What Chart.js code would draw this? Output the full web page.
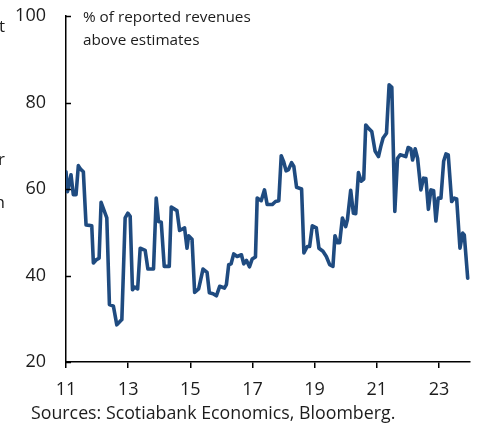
<!DOCTYPE html>
<html>
<head>
<meta charset="utf-8">
<script src="https://cdn.jsdelivr.net/npm/chart.js@4"></script>
<style>
  html, body { margin: 0; padding: 0; background: #fff; }
  canvas { display: block; }
</style>
</head>
<body>
<canvas id="revChart" width="477" height="430"></canvas>
<script>
// share of reported revenues above estimates, by date (two-digit year)
const years = [
    11.000, 11.048, 11.161, 11.235, 11.323, 11.397, 11.468, 11.558, 11.645, 11.829,
    11.881, 11.968, 12.065, 12.129, 12.313, 12.397, 12.526, 12.635, 12.797, 12.903,
    12.990, 13.065, 13.139, 13.210, 13.306, 13.387, 13.548, 13.635, 13.816, 13.903,
    13.977, 14.065, 14.161, 14.323, 14.387, 14.571, 14.655, 14.816, 14.894, 14.945,
    15.055, 15.139, 15.268, 15.410, 15.539, 15.613, 15.732, 15.839, 15.945, 16.097,
    16.161, 16.235, 16.313, 16.397, 16.506, 16.645, 16.719, 16.806, 16.903, 16.990,
    17.097, 17.152, 17.281, 17.387, 17.474, 17.635, 17.742, 17.848, 17.926, 18.000,
    18.081, 18.161, 18.258, 18.332, 18.419, 18.581, 18.655, 18.765, 18.839, 18.926,
    19.055, 19.139, 19.268, 19.377, 19.484, 19.590, 19.655, 19.732, 19.806, 19.894,
    20.000, 20.055, 20.161, 20.248, 20.323, 20.410, 20.500, 20.581, 20.645, 20.752,
    20.839, 20.945, 21.055, 21.129, 21.203, 21.313, 21.397, 21.484, 21.581, 21.668,
    21.752, 21.861, 21.935, 22.010, 22.097, 22.152, 22.235, 22.313, 22.419, 22.506,
    22.581, 22.661, 22.742, 22.829, 22.903, 22.977, 23.065, 23.152, 23.226, 23.300,
    23.410, 23.494, 23.571, 23.677, 23.765, 23.816, 23.926
];
const values = [
    64.0, 59.4, 63.3, 58.7, 58.7, 65.4, 64.6, 64.0, 51.7, 51.5,
    42.9, 43.6, 44.0, 56.9, 53.3, 33.3, 32.9, 28.6, 29.8, 53.3,
    54.4, 53.7, 36.7, 37.3, 36.9, 46.3, 45.8, 41.5, 41.5, 57.9,
    52.5, 52.3, 42.1, 42.1, 55.8, 55.0, 50.4, 51.0, 46.3, 49.2,
    48.4, 36.1, 36.9, 41.5, 40.7, 36.0, 35.8, 35.3, 37.5, 37.1,
    37.9, 42.5, 42.7, 45.0, 44.4, 44.8, 42.7, 43.5, 42.0, 43.8,
    44.3, 57.9, 57.3, 59.8, 56.4, 56.4, 57.1, 57.3, 67.7, 66.4,
    64.2, 64.5, 66.1, 65.2, 60.4, 60.0, 45.2, 46.7, 46.7, 51.5,
    51.0, 46.3, 45.6, 44.4, 42.5, 42.1, 49.2, 47.6, 47.6, 53.3,
    51.3, 52.9, 59.7, 54.4, 54.3, 63.8, 61.8, 62.3, 74.8, 73.9,
    73.3, 68.8, 67.5, 69.8, 71.8, 72.9, 84.1, 83.5, 54.8, 67.1,
    67.9, 67.7, 67.5, 69.6, 69.3, 66.7, 69.3, 67.1, 59.8, 62.5,
    62.4, 55.3, 59.8, 59.6, 52.6, 57.9, 57.9, 66.4, 68.1, 67.9,
    57.1, 57.9, 57.7, 46.3, 49.8, 49.4, 39.4
];
const xTicks = [11, 13, 15, 17, 19, 21, 23];
const yTicks = [20, 40, 60, 80, 100];
const titleLines = ["% of reported revenues", "above estimates"];
const sourceText = "Sources: Scotiabank Economics, Bloomberg.";

const FONT = "'Open Sans', 'Noto Sans', sans-serif";
const INK = "#1c1c1c";

// y-axis ticks point into the plot, plus the text around the chart
const decorations = {
    id: "decorations",
    afterDraw(chart) {
        const ctx = chart.ctx;
        const y = chart.scales.y;
        const left = chart.chartArea.left;
        ctx.save();
        ctx.strokeStyle = "#000";
        ctx.lineWidth = 1.5;
        yTicks.forEach(v => {
            const py = Math.round(y.getPixelForValue(v)) + 0.5;
            ctx.beginPath();
            ctx.moveTo(left, py);
            ctx.lineTo(left + 5, py);
            ctx.stroke();
        });

        ctx.fillStyle = INK;
        ctx.textAlign = "left";
        ctx.textBaseline = "alphabetic";
        ctx.font = "15.3px " + FONT;
        ctx.fillText(titleLines[0], 83, 22);
        ctx.fillText(titleLines[1], 83, 45);
        ctx.font = "17.8px " + FONT;
        ctx.fillText(sourceText, 31, 419);

        // edges of the neighbouring panel's text
        ctx.font = "17px " + FONT;
        ctx.textAlign = "right";
        ctx.fillText("t", 5, 32);
        ctx.fillText("r", 5, 165);
        ctx.fillText("h", 5, 208);
        ctx.restore();
    }
};

new Chart(document.getElementById("revChart"), {
    type: "line",
    data: {
        datasets: [{
            data: years.map((x, i) => ({ x: x, y: values[i] })),
            borderColor: "#1f4b80",
            borderWidth: 3.6,
            borderJoinStyle: "round",
            borderCapStyle: "round",
            pointRadius: 0,
            tension: 0,
            fill: false
        }]
    },
    options: {
        responsive: false,
        animation: false,
        layout: { padding: { top: 16, right: 7, left: 0, bottom: 0 } },
        plugins: {
            legend: { display: false },
            tooltip: { enabled: false }
        },
        scales: {
            x: {
                type: "linear",
                min: 11,
                max: 24,
                afterBuildTicks: s => { s.ticks = xTicks.map(v => ({ value: v })); },
                afterFit: s => {
                    s.height = 68;
                    s.paddingLeft = 0;
                    s.paddingRight = 0;
                },
                grid: {
                    drawOnChartArea: false,
                    drawTicks: true,
                    tickLength: 6,
                    color: "#000",
                    lineWidth: 1.5
                },
                border: { display: true, color: "#000", width: 1.5 },
                ticks: {
                    autoSkip: false,
                    maxRotation: 0,
                    padding: 11,
                    color: INK,
                    font: { family: FONT, size: 18 },
                    callback: v => String(v)
                }
            },
            y: {
                min: 20,
                max: 100,
                afterBuildTicks: s => { s.ticks = yTicks.map(v => ({ value: v })); },
                afterFit: s => {
                    s.width = 66;
                    s.paddingTop = 0;
                    s.paddingBottom = 0;
                },
                grid: { display: false, drawTicks: false },
                border: { display: true, color: "#000", width: 1.5 },
                ticks: {
                    padding: 20,
                    color: INK,
                    font: { family: FONT, size: 18 }
                }
            }
        }
    },
    plugins: [decorations]
});
</script>
</body>
</html>
